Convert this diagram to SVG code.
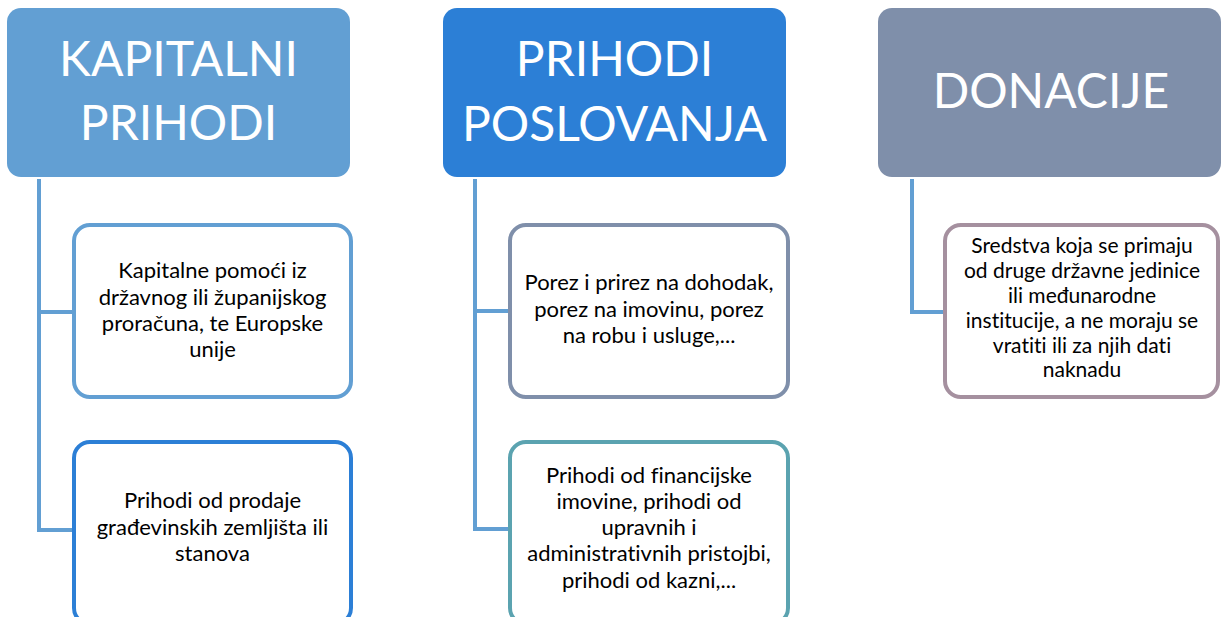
<svg xmlns="http://www.w3.org/2000/svg" width="1221" height="617" viewBox="0 0 1221 617">
<style>
.hdr{font-family:Lato,"Open Sans",sans-serif;font-size:48px;fill:#ffffff;text-anchor:middle}
.txt{font-family:Lato,"Open Sans",sans-serif;font-size:22px;fill:#000000;text-anchor:middle;font-variant-ligatures:none}
.sm{font-size:21px}
.box{fill:#ffffff;stroke-width:4}
.con{fill:none;stroke:#629FD3;stroke-width:4}
</style>
<rect width="1221" height="617" fill="#ffffff"/>
<g id="connectors">
<path class="con" d="M39 179V530H74M39 312H74"/>
<path class="con" d="M475 179V529H510M475 311H510"/>
<path class="con" d="M912 179V312H945"/>
</g>
<g id="kapitalni">
<rect x="7" y="8" width="343" height="169" rx="14" fill="#629FD3"/>
<text class="hdr" x="178.5" y="76">KAPITALNI</text>
<text class="hdr" x="178.5" y="140">PRIHODI</text>
</g>
<g id="poslovanja">
<rect x="443" y="8" width="343" height="169" rx="14" fill="#2C7FD6"/>
<text class="hdr" x="614.5" y="76">PRIHODI</text>
<text class="hdr" x="614.5" y="141">POSLOVANJA</text>
</g>
<g id="donacije">
<rect x="878" y="8" width="343" height="169" rx="14" fill="#7F8FAA"/>
<text class="hdr" x="1051" y="108">DONACIJE</text>
</g>
<g id="kap1">
<rect class="box" x="74" y="225" width="277" height="172" rx="16" stroke="#629FD3"/>
<text class="txt" x="212.5" y="278">Kapitalne pomoći iz</text>
<text class="txt" x="212.5" y="305">državnog ili županijskog</text>
<text class="txt" x="212.5" y="331">proračuna, te Europske</text>
<text class="txt" x="212.5" y="357">unije</text>
</g>
<g id="kap2">
<rect class="box" x="74" y="442" width="277" height="182" rx="16" stroke="#2C7FD6"/>
<text class="txt" x="212.5" y="508">Prihodi od prodaje</text>
<text class="txt" x="212.5" y="535">građevinskih zemljišta ili</text>
<text class="txt" x="212.5" y="561">stanova</text>
</g>
<g id="pos1">
<rect class="box" x="510" y="225" width="278" height="172" rx="16" stroke="#7F8FAA"/>
<text class="txt" x="649" y="290">Porez i prirez na dohodak,</text>
<text class="txt" x="649" y="317">porez na imovinu, porez</text>
<text class="txt" x="649" y="343">na robu i usluge,...</text>
</g>
<g id="pos2">
<rect class="box" x="510" y="442" width="278" height="182" rx="16" stroke="#5BA3B0"/>
<text class="txt" x="649" y="483">Prihodi od financijske</text>
<text class="txt" x="649" y="509">imovine, prihodi od</text>
<text class="txt" x="649" y="535">upravnih i</text>
<text class="txt" x="649" y="561">administrativnih pristojbi,</text>
<text class="txt" x="649" y="588">prihodi od kazni,...</text>
</g>
<g id="don1">
<rect class="box" x="945" y="225" width="273" height="172" rx="16" stroke="#A5909F"/>
<text class="txt sm" x="1082" y="253">Sredstva koja se primaju</text>
<text class="txt sm" x="1082" y="278">od druge državne jedinice</text>
<text class="txt sm" x="1082" y="303">ili međunarodne</text>
<text class="txt sm" x="1082" y="328">institucije, a ne moraju se</text>
<text class="txt sm" x="1082" y="353">vratiti ili za njih dati</text>
<text class="txt sm" x="1082" y="377">naknadu</text>
</g>
</svg>
